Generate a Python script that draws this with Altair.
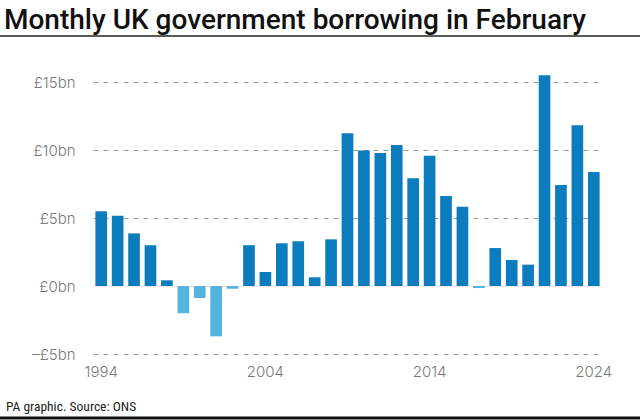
import altair as alt
import pandas as pd

years = list(range(1994, 2025))
borrowing = [5.5, 5.17, 3.87, 3.0, 0.42, -2.0, -0.88, -3.7, -0.2, 3.0,
             1.03, 3.14, 3.29, 0.64, 3.43, 11.23, 9.97, 9.78, 10.37, 7.92,
             9.58, 6.62, 5.83, -0.15, 2.79, 1.91, 1.57, 15.5, 7.43, 11.82, 8.38]
y_ticks = [-5, 0, 5, 10, 15]
x_ticks = [1994, 2004, 2014, 2024]
title_text = "Monthly UK government borrowing in February"
source_text = "PA graphic. Source: ONS"

df = pd.DataFrame({"year": years, "value": borrowing})

W, H = 509, 272
L, T = 93, 82

bars = alt.Chart(df).mark_bar().encode(
    x=alt.X("year:O",
            scale=alt.Scale(paddingInner=0.29, paddingOuter=0.145),
            axis=alt.Axis(values=x_ticks, title=None, labelAngle=0, domain=False,
                          ticks=False, labelFontSize=15, labelColor="#7a7a7a",
                          labelFont="Inter", labelFontWeight=300, labelPadding=10)),
    y=alt.Y("value:Q",
            scale=alt.Scale(domain=[-5, 15], nice=False, zero=False),
            axis=alt.Axis(values=y_ticks, title=None, domain=False, ticks=False,
                          labelFontSize=15, labelColor="#7a7a7a", labelFont="Inter",
                          labelFontWeight=300, labelPadding=18,
                          labelExpr="datum.value < 0 ? '–£' + abs(datum.value) + 'bn' : '£' + datum.value + 'bn'",
                          grid=True,
                          gridColor=alt.condition("datum.value === 0", alt.value("#eadede"), alt.value("#9a9a9a")),
                          gridDash=alt.condition("datum.value === 0", alt.value([1, 0]), alt.value([5, 5])),
                          gridWidth=1)),
    color=alt.condition("datum.value < 0", alt.value("#55b3e0"), alt.value("#0b7cbd")),
)

one = alt.Data(values=[{}])

title = alt.Chart(one).mark_text(
    text=title_text, font="Roboto", fontSize=28, fontWeight=500, color="#111111",
    align="left", baseline="alphabetic"
).encode(x=alt.value(4 - L), y=alt.value(29 - T))

top_line = alt.Chart(one).mark_rule(color="#222222", strokeWidth=1.5).encode(
    x=alt.value(-L), x2=alt.value(640 - L), y=alt.value(36 - T))

source = alt.Chart(one).mark_text(
    text=source_text, font="Liberation Sans Narrow, Roboto Condensed, Roboto", fontSize=13.5,
    color="#222222", align="left", baseline="alphabetic"
).encode(x=alt.value(6 - L), y=alt.value(411 - T))

bottom_line = alt.Chart(one).mark_rule(color="#111111", strokeWidth=3).encode(
    x=alt.value(-L), x2=alt.value(640 - L), y=alt.value(418 - T))

chart = alt.layer(bars, title, top_line, source, bottom_line).properties(
    width=W, height=H,
    autosize=alt.AutoSizeParams(type="none"),
    padding={"left": L, "top": T, "right": 640 - L - W, "bottom": 420 - T - H},
    background="white",
).configure_view(stroke=None)

chart.save("out.html", embed_options={"renderer": "svg", "actions": False})
